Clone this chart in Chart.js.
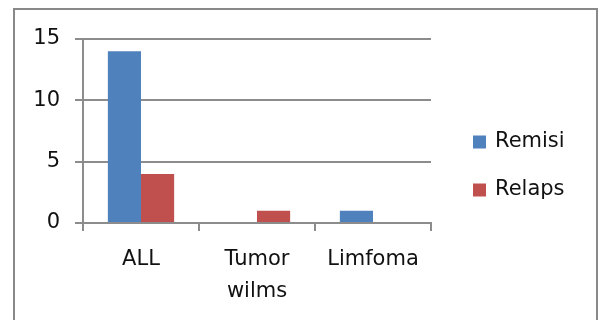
<!DOCTYPE html>
<html>
<head>
<meta charset="utf-8">
<script src="https://cdn.jsdelivr.net/npm/chart.js@4/dist/chart.umd.min.js"></script>
<style>
  html, body { margin: 0; padding: 0; background: #fff; }
  canvas { display: block; }
</style>
</head>
<body>
<canvas id="c" width="598" height="320"></canvas>
<script>
// Outcome counts per diagnosis
const categories = ['ALL', ['Tumor', 'wilms'], 'Limfoma'];
const remisi = [14, 0, 1];
const relaps = [4, 1, 0];
const seriesNames = ['Remisi', 'Relaps'];
const seriesColors = ['#4F81BD', '#C0504D'];

const FONT = 'DejaVu Sans';
const AXIS_GRAY = '#8c8c8c';

// Frame around the whole chart
const framePlugin = {
  id: 'frame',
  beforeDraw(chart) {
    const ctx = chart.ctx;
    ctx.save();
    ctx.fillStyle = '#fff';
    ctx.fillRect(0, 0, chart.width, chart.height);
    ctx.strokeStyle = '#898989';
    ctx.lineWidth = 2;
    ctx.strokeRect(14, 9, 583, 330);
    ctx.restore();
  }
};

// Legend to the right of the plot, built from the datasets
const sideLegend = {
  id: 'sideLegend',
  afterDraw(chart) {
    const ctx = chart.ctx;
    ctx.save();
    ctx.font = '21px "' + FONT + '"';
    ctx.textBaseline = 'middle';
    ctx.textAlign = 'left';
    chart.data.datasets.forEach((ds, i) => {
      const cy = 142 + i * 48;
      ctx.fillStyle = ds.backgroundColor;
      ctx.fillRect(473, cy - 6.5, 13, 13);
      ctx.fillStyle = '#111';
      ctx.fillText(ds.label, 495, cy);
    });
    ctx.restore();
  }
};

new Chart(document.getElementById('c'), {
  type: 'bar',
  data: {
    labels: categories,
    datasets: [
      { label: seriesNames[0], data: remisi, backgroundColor: seriesColors[0] },
      { label: seriesNames[1], data: relaps, backgroundColor: seriesColors[1] }
    ]
  },
  options: {
    responsive: false,
    animation: false,
    devicePixelRatio: 1,
    layout: { padding: { top: 39, left: 14, right: 167, bottom: 0 } },
    datasets: {
      bar: { categoryPercentage: 2 / 3.5, barPercentage: 1, borderWidth: 0 }
    },
    plugins: {
      legend: { display: false },
      tooltip: { enabled: false }
    },
    scales: {
      x: {
        offset: true,
        grid: {
          display: true,
          drawOnChartArea: false,
          drawTicks: true,
          tickLength: 8,
          offset: true,
          color: AXIS_GRAY,
          lineWidth: 2
        },
        border: { display: true, color: AXIS_GRAY, width: 2 },
        ticks: {
          color: '#111',
          font: { family: FONT, size: 21, lineHeight: 1.55 },
          padding: 12,
          maxRotation: 0,
          autoSkip: false
        },
        afterFit(scale) { scale.height = 97; }
      },
      y: {
        min: 0,
        max: 15,
        grid: {
          color: AXIS_GRAY,
          lineWidth: 2,
          tickLength: 8,
          drawTicks: true
        },
        border: { display: true, color: AXIS_GRAY, width: 2 },
        ticks: {
          stepSize: 5,
          color: '#111',
          font: { family: FONT, size: 21 },
          padding: 15
        },
        afterFit(scale) { scale.width = 69; }
      }
    }
  },
  plugins: [framePlugin, sideLegend]
});
</script>
</body>
</html>
